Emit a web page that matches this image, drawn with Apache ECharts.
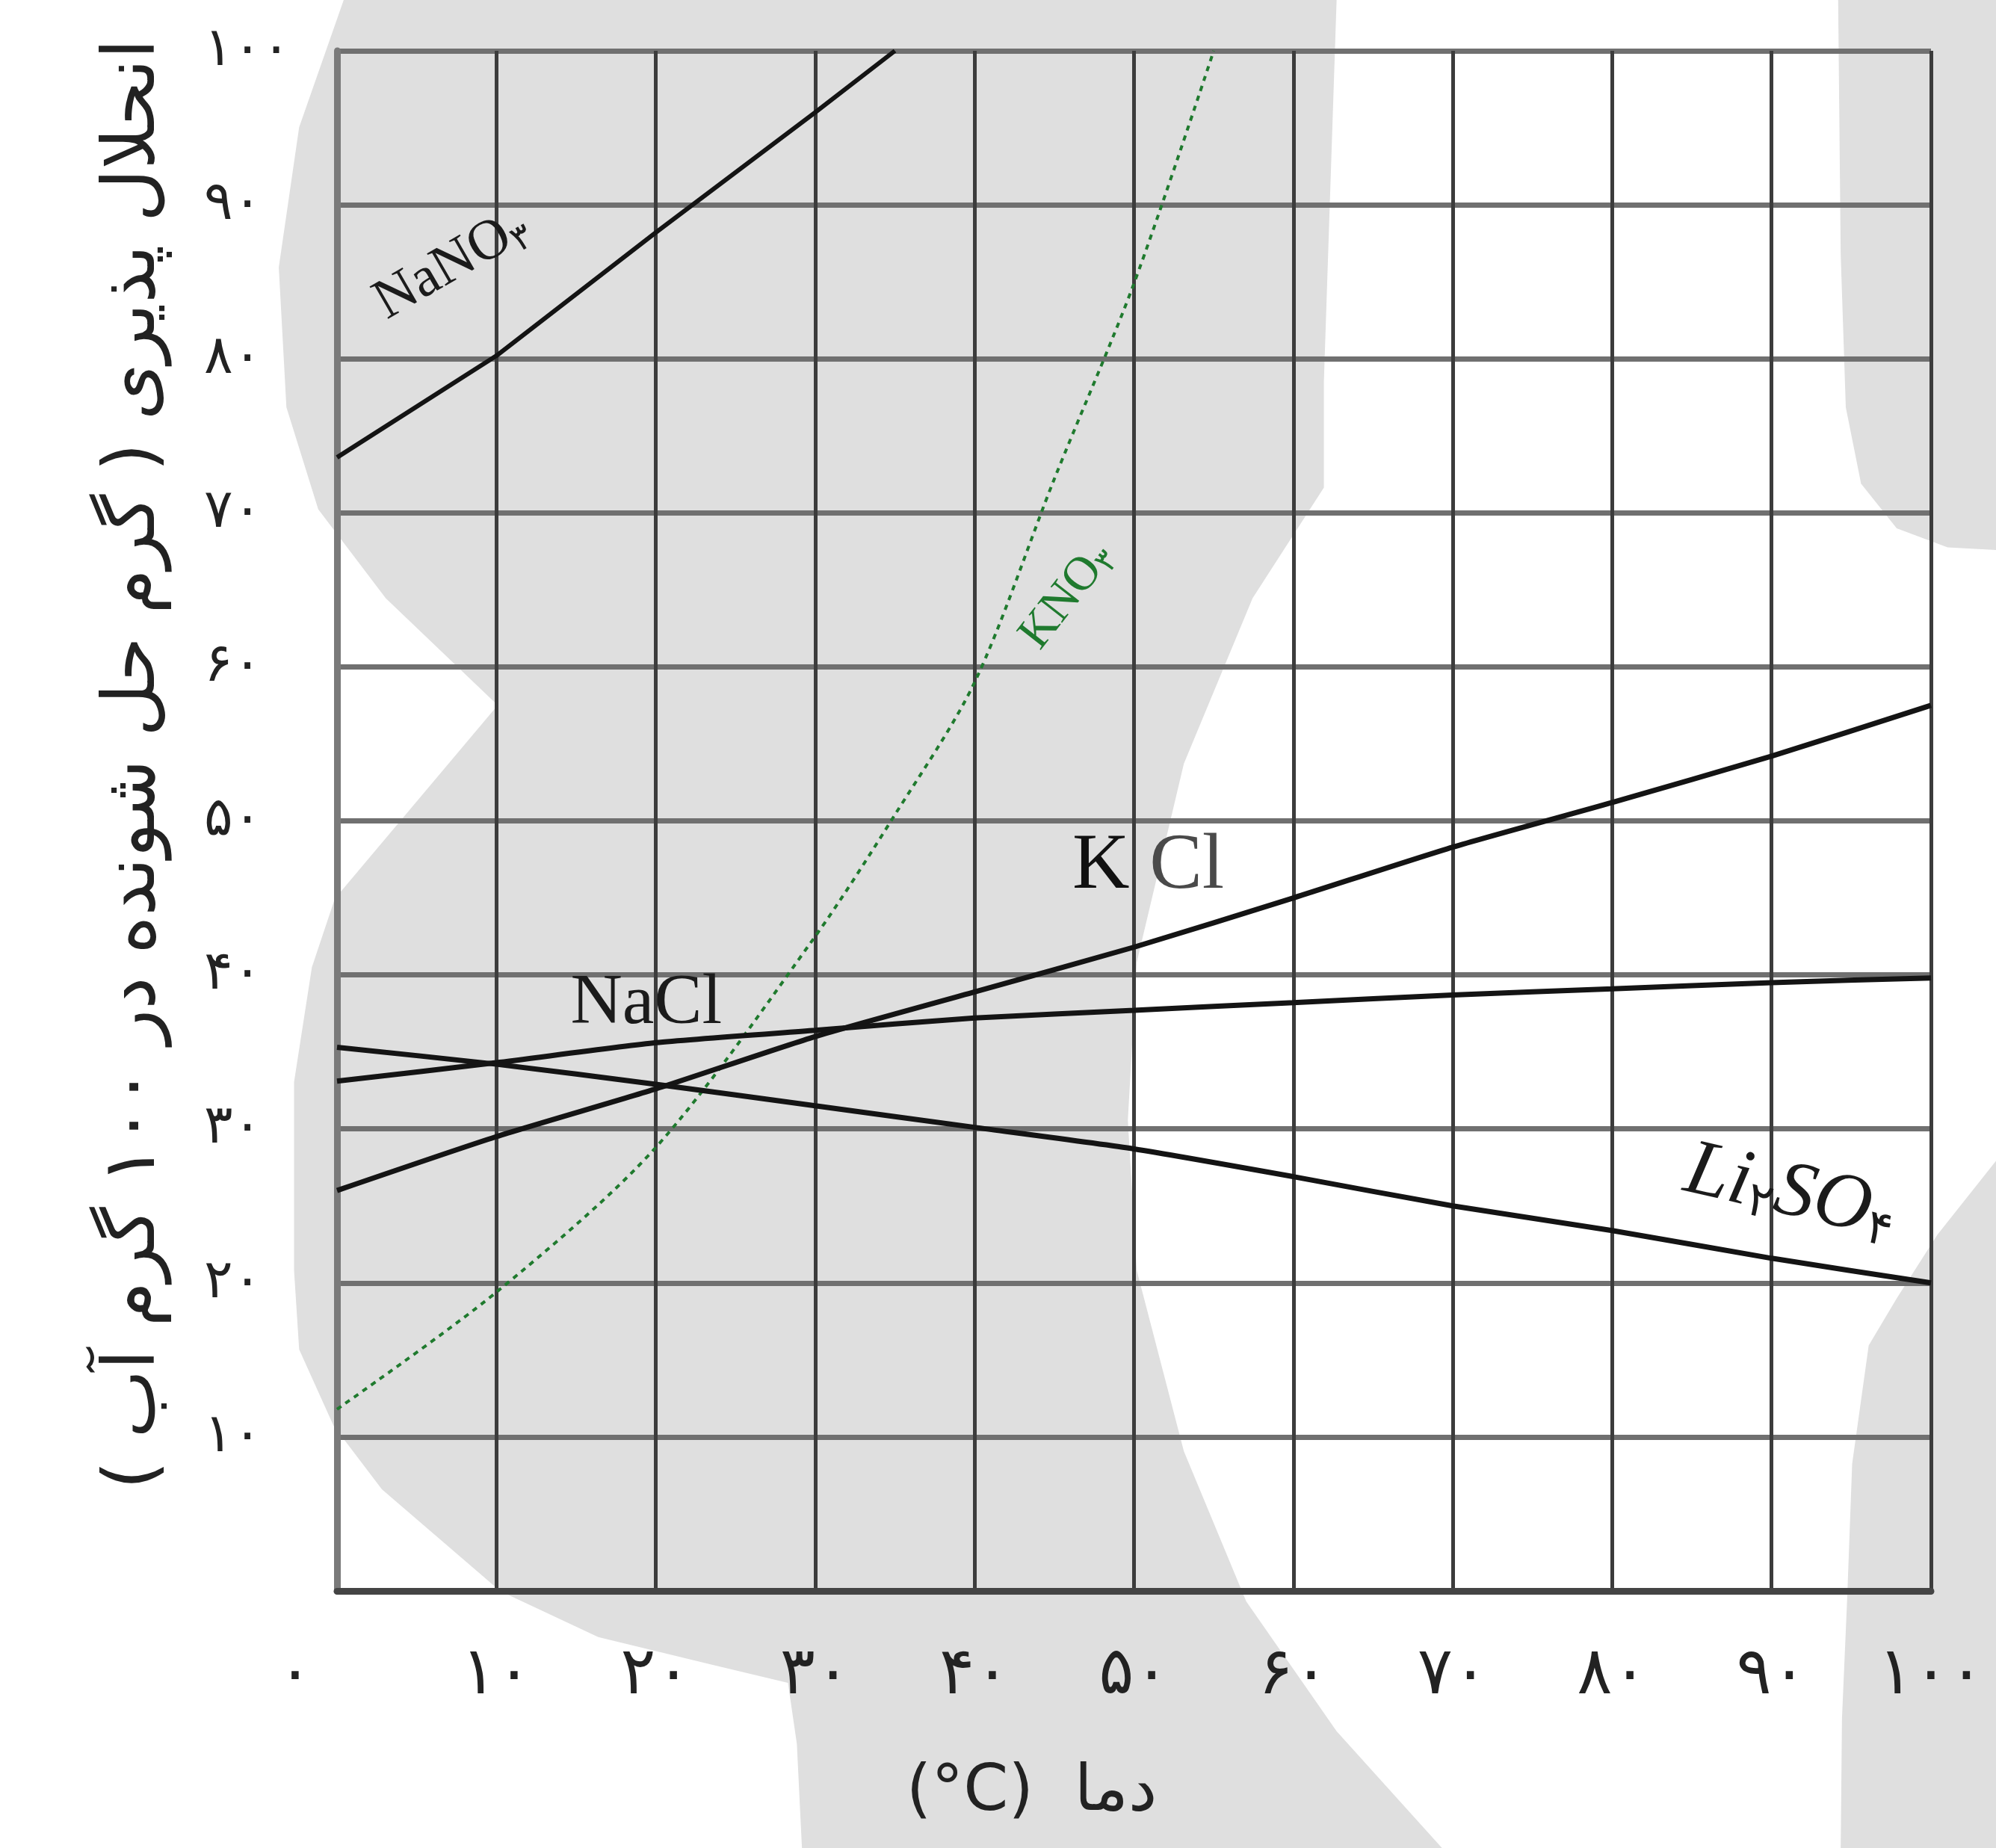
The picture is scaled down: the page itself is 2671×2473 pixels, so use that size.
<!DOCTYPE html>
<html>
<head>
<meta charset="utf-8">
<script src="https://cdn.jsdelivr.net/npm/echarts@6/dist/echarts.min.js"></script>
<style>
html,body{margin:0;padding:0;background:#fff;}
#chart{width:2671px;height:2473px;}
</style>
</head>
<body>
<div id="chart"></div>
<script>
// ---- data ----
const temps = [0, 10, 20, 30, 40, 50, 60, 70, 80, 90, 100];
const naclSol = [33.1, 34.3, 35.6, 36.4, 37.2, 37.7, 38.2, 38.7, 39.1, 39.5, 39.8];
const kclSol = [26.0, 29.5, 32.6, 36.0, 38.9, 41.8, 45.0, 48.3, 51.2, 54.2, 57.5];
const li2so4Sol = [35.3, 34.2, 32.9, 31.5, 30.1, 28.7, 26.9, 25.0, 23.4, 21.6, 20.0];
const kno3Temps = [0, 10, 20, 30, 35, 40, 45, 50, 55];
const kno3Sol = [11.8, 19.4, 28.8, 42.5, 50.4, 59.0, 72.2, 84.9, 100];
const nano3Temps = [0, 10, 20, 30, 35];
const nano3Sol = [73.6, 80.2, 88.2, 96.0, 100];
const xTickLabels = ['۰', '۱۰', '۲۰', '۳۰', '۴۰', '۵۰', '۶۰', '۷۰', '۸۰', '۹۰', '۱۰۰'];
const yTickLabels = ['', '۱۰', '۲۰', '۳۰', '۴۰', '۵۰', '۶۰', '۷۰', '۸۰', '۹۰', '۱۰۰'];
const xName = '\u202Bدما  (\u202A°C\u202C)\u202C';
const yName = '\u202Bانحلال پذیری ( گرم حل شونده در ۱۰۰ گرم آب )\u202C';

// ---- background watermark shapes (decoration, in 1568-wide preview units) ----
const S = 2671 / 1568;
const blobMain = [[270,0],[1050,0],[1040,300],[1040,383],[984,470],[930,600],[893,756],[886,880],[893,998],[930,1140],[979,1258],[1050,1360],[1133,1452],[630,1452],[626,1370],[619,1322],[560,1308],[470,1286],[393,1250],[300,1170],[262,1120],[235,1060],[231,998],[231,850],[245,760],[263,706],[391,554],[303,470],[250,400],[225,320],[219,210],[235,100]];
const blobTopRight = [[1444,0],[1568,0],[1568,432],[1530,430],[1490,415],[1462,380],[1450,320],[1446,200]];
const blobBottomRight = [[1568,912],[1522,970],[1490,1020],[1468,1057],[1455,1150],[1451,1258],[1447,1350],[1446,1452],[1568,1452]];
const sc = pts => pts.map(p => [p[0] * S, p[1] * S]);

const chart = echarts.init(document.getElementById('chart'));
const pair = (xs, ys) => xs.map((x, i) => [x, ys[i]]);
const lineCol = '#141414';
const serif = 'Liberation Serif';
const pers = 'DejaVu Sans';

function labelPoint(x, y, rich, fmt, rotate) {
  return {
    symbol: 'circle', symbolSize: 1, silent: true,
    itemStyle: { color: 'rgba(0,0,0,0)' },
    data: [{ coord: [x, y], label: { show: true, position: 'inside', formatter: fmt, rotate: rotate, rich: rich } }]
  };
}

const option = {
  backgroundColor: '#ffffff',
  animation: false,
  graphic: [
    { type: 'polygon', z: -10, silent: true, shape: { points: sc(blobMain) }, style: { fill: '#dfdfdf' } },
    { type: 'polygon', z: -10, silent: true, shape: { points: sc(blobTopRight) }, style: { fill: '#dfdfdf' } },
    { type: 'polygon', z: -10, silent: true, shape: { points: sc(blobBottomRight) }, style: { fill: '#dfdfdf' } }
  ],
  grid: { left: 451, right: 87, top: 68, bottom: 344, containLabel: false },
  xAxis: {
    type: 'value', min: 0, max: 100, interval: 10,
    name: xName, nameLocation: 'middle', nameGap: 228,
    nameTextStyle: { fontFamily: pers, fontSize: 86, color: '#222', padding: [0, 274, 0, 0] },
    axisLine: { show: true, lineStyle: { color: '#444', width: 9 } },
    axisTick: { show: false },
    axisLabel: {
      margin: 70, fontFamily: pers, fontSize: 88, color: '#222',
      formatter: v => v === 0 ? '{o|' + xTickLabels[0] + '}' : xTickLabels[Math.round(v / 10)],
      rich: { o: { fontFamily: pers, fontSize: 88, color: '#222', padding: [0, 112, 0, 0] } }
    },
    splitLine: { show: true, lineStyle: { color: '#3c3c3c', width: 5 } }
  },
  yAxis: {
    type: 'value', min: 0, max: 100, interval: 10,
    name: yName, nameLocation: 'middle', nameGap: 222, nameRotate: 90,
    nameTextStyle: { fontFamily: pers, fontSize: 97, color: '#222', padding: [0, 0, 0, 152] },
    axisLine: { show: true, lineStyle: { color: '#7a7a7a', width: 9 } },
    axisTick: { show: false },
    axisLabel: {
      margin: 178, align: 'left', fontFamily: pers, fontSize: 72, color: '#222',
      formatter: v => yTickLabels[Math.round(v / 10)]
    },
    splitLine: { show: true, lineStyle: { color: '#707070', width: 7 } }
  },
  series: [
    {
      name: 'NaNO3', type: 'line', data: pair(nano3Temps, nano3Sol), smooth: false, showSymbol: false,
      lineStyle: { color: lineCol, width: 6 },
      markPoint: labelPoint(7.2, 86.1, {
        n: { fontFamily: serif, fontSize: 76, color: '#1b1b1b' },
        s: { fontFamily: pers, fontSize: 48, color: '#1b1b1b', padding: [36, 0, 0, 0] }
      }, '{n|NaNO}{s|۳}', 30)
    },
    {
      name: 'KNO3', type: 'line', data: pair(kno3Temps, kno3Sol), smooth: 0.3, showSymbol: false,
      lineStyle: { color: '#1f7a2e', width: 4, type: [7, 7] },
      markPoint: labelPoint(45.8, 64.6, {
        n: { fontFamily: serif, fontSize: 64, color: '#1f7a2e' },
        s: { fontFamily: pers, fontSize: 42, color: '#1f7a2e', padding: [30, 0, 0, 0] }
      }, '{n|KNO}{s|۳}', 52)
    },
    {
      name: 'KCl', type: 'line', data: pair(temps, kclSol), smooth: 0.2, showSymbol: false,
      lineStyle: { color: lineCol, width: 7 },
      markPoint: labelPoint(50.9, 47.0, {
        k: { fontFamily: serif, fontSize: 106, color: '#111' },
        c: { fontFamily: serif, fontSize: 106, color: '#4a4a4a' }
      }, '{k|K }{c|Cl}', 0)
    },
    {
      name: 'NaCl', type: 'line', data: pair(temps, naclSol), smooth: 0.2, showSymbol: false,
      lineStyle: { color: lineCol, width: 7 },
      markPoint: labelPoint(19.4, 38.1, {
        n: { fontFamily: serif, fontSize: 96, color: '#1b1b1b' }
      }, '{n|NaCl}', 0)
    },
    {
      name: 'Li2SO4', type: 'line', data: pair(temps, li2so4Sol), smooth: 0.2, showSymbol: false,
      lineStyle: { color: lineCol, width: 7 },
      markPoint: labelPoint(91.2, 25.8, {
        n: { fontFamily: serif, fontSize: 106, fontStyle: 'italic', color: '#1b1b1b' },
        s: { fontFamily: pers, fontSize: 64, color: '#1b1b1b', padding: [46, 0, 0, 0] }
      }, '{n|Li}{s|۲}{n|SO}{s|۴}', -13)
    }
  ]
};
chart.setOption(option);
</script>
</body>
</html>
